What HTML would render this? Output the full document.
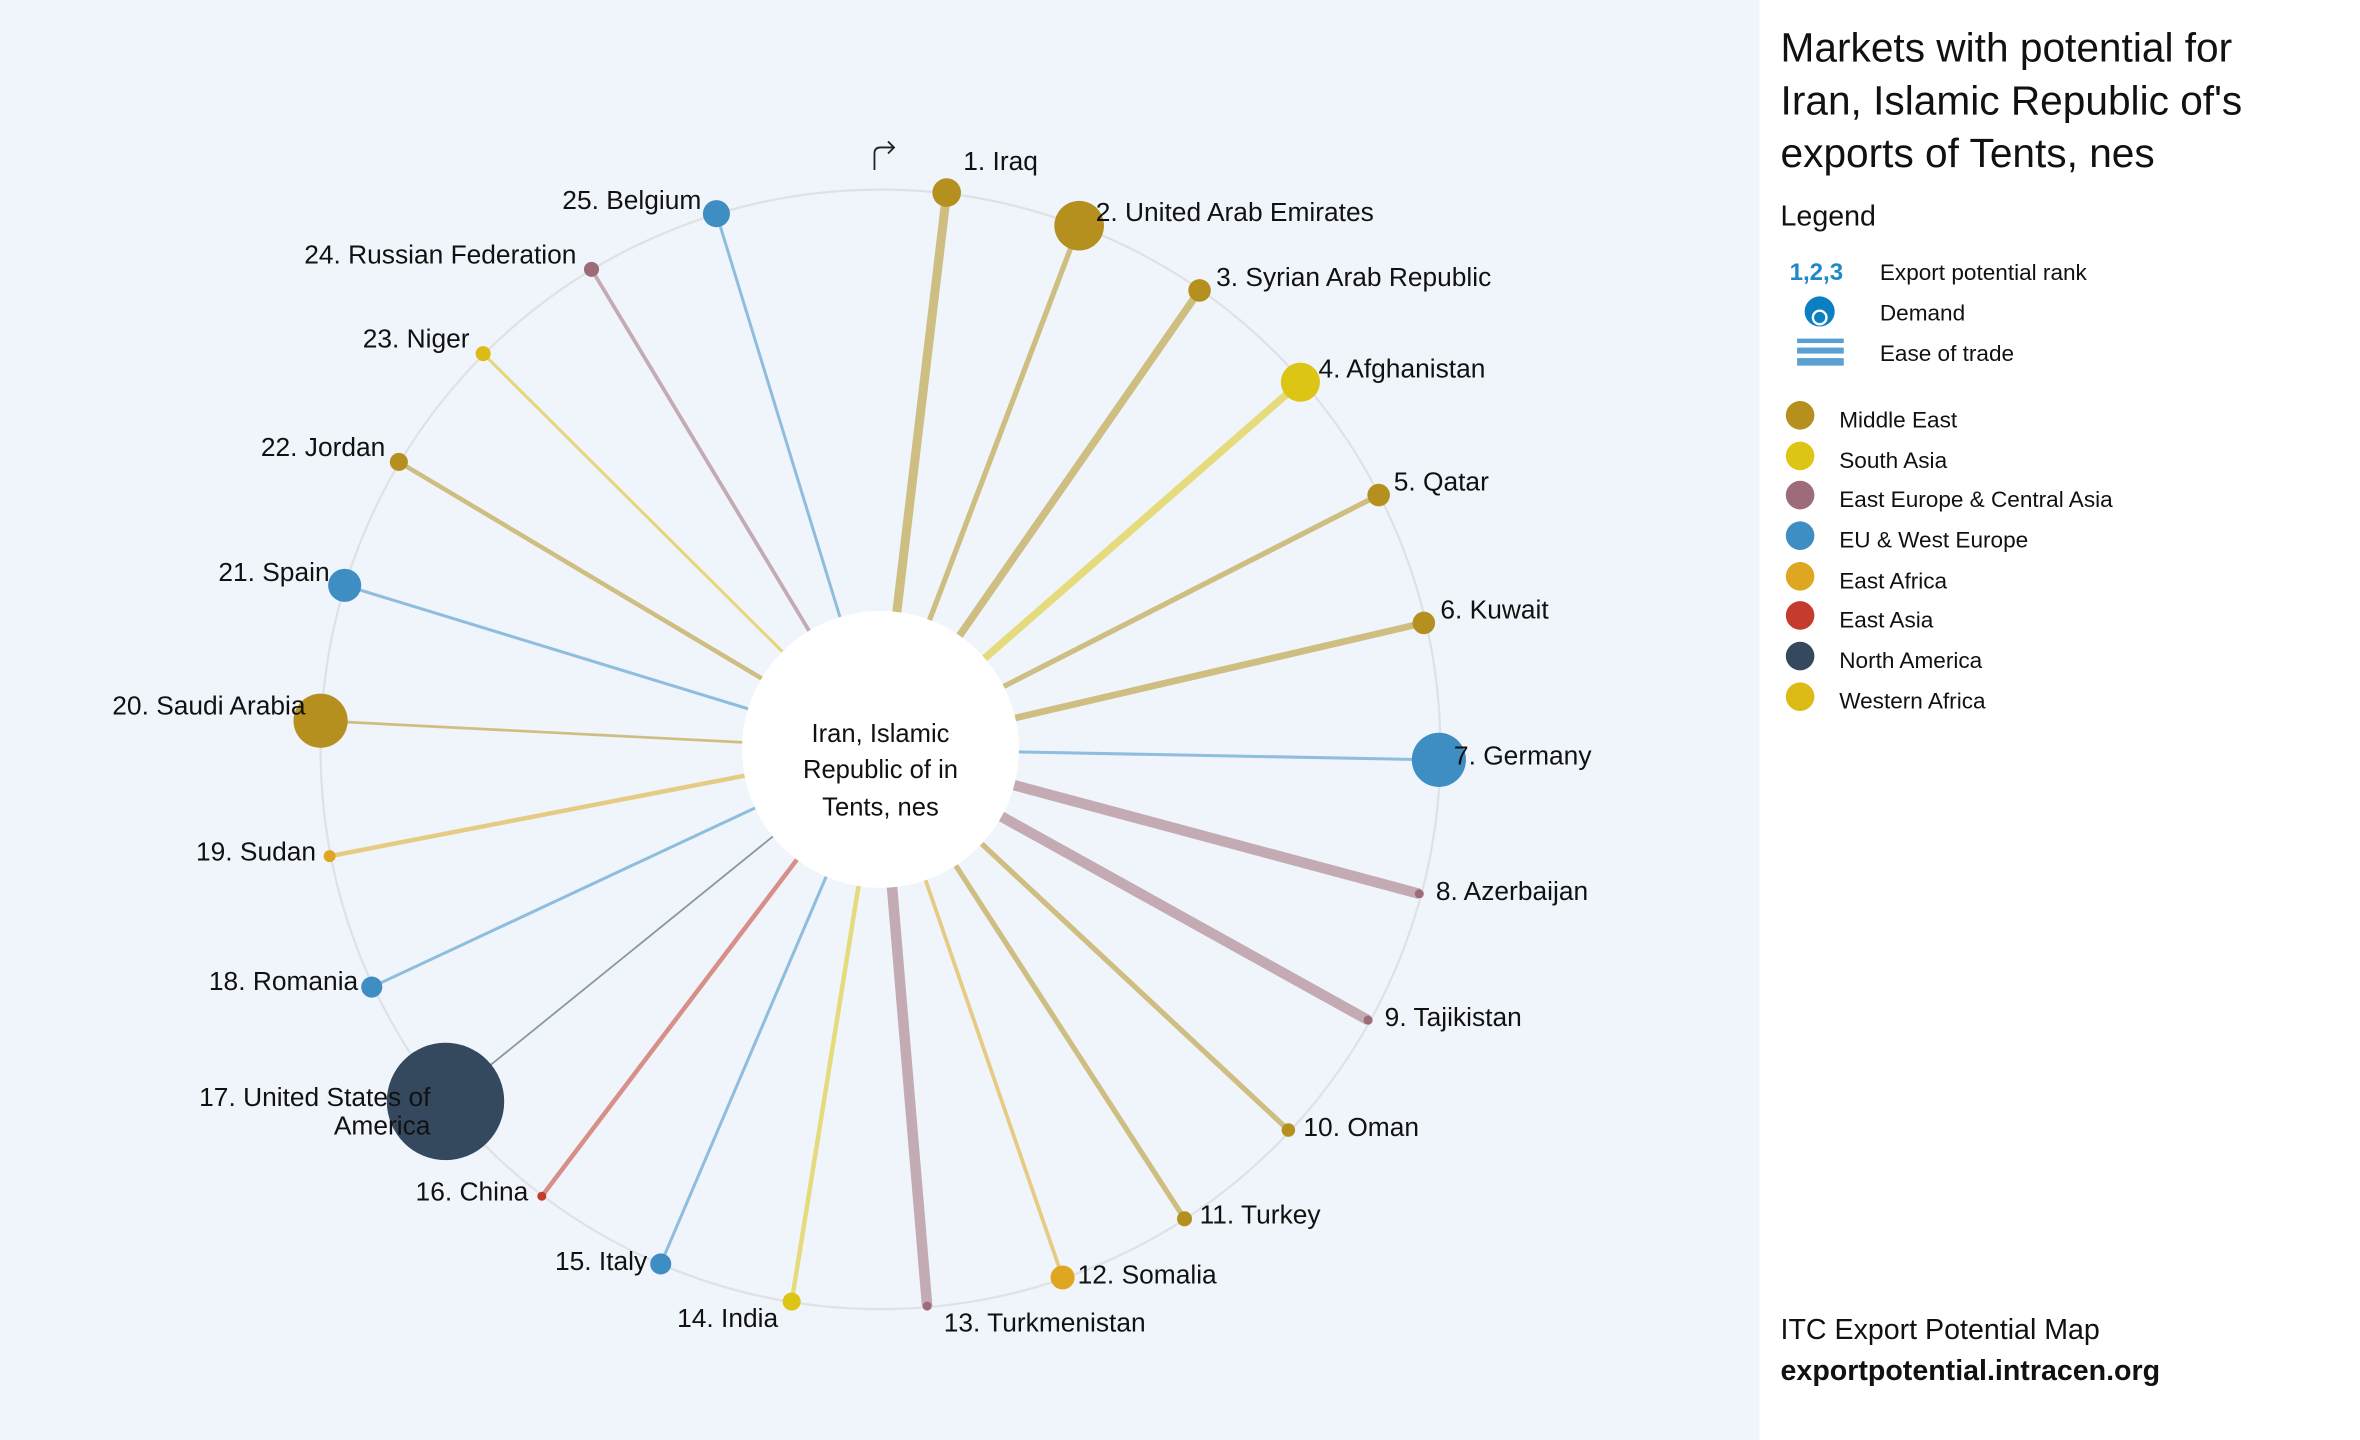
<!DOCTYPE html>
<html><head><meta charset="utf-8"><style>
html,body{margin:0;padding:0;background:#fff;}
svg{display:block;}
text{font-family:"Liberation Sans",sans-serif;fill:#111;}
</style></head><body>
<svg width="2360" height="1440" viewBox="0 0 1568 957" preserveAspectRatio="none" xmlns="http://www.w3.org/2000/svg">
<rect x="0" y="0" width="1169" height="957" fill="#f0f5fb"/>
<rect x="1169" y="0" width="399" height="957" fill="#fff"/>
<circle cx="585" cy="498" r="372" fill="none" stroke="#dfe2e5" stroke-width="1.5"/>
<g stroke-linecap="butt" stroke-opacity="0.55">
<line x1="585" y1="498" x2="629" y2="128" stroke="#b5901f" stroke-width="6"/>
<line x1="585" y1="498" x2="717" y2="150" stroke="#b5901f" stroke-width="3.5"/>
<line x1="585" y1="498" x2="797" y2="193" stroke="#b5901f" stroke-width="5"/>
<line x1="585" y1="498" x2="864" y2="254" stroke="#dcc514" stroke-width="5"/>
<line x1="585" y1="498" x2="916" y2="329" stroke="#b5901f" stroke-width="3.5"/>
<line x1="585" y1="498" x2="946" y2="414" stroke="#b5901f" stroke-width="4.5"/>
<line x1="585" y1="498" x2="956" y2="505" stroke="#3e8ec4" stroke-width="2"/>
<line x1="585" y1="498" x2="943" y2="594" stroke="#9e6b78" stroke-width="7"/>
<line x1="585" y1="498" x2="909" y2="678" stroke="#9e6b78" stroke-width="7"/>
<line x1="585" y1="498" x2="856" y2="751" stroke="#b5901f" stroke-width="3.5"/>
<line x1="585" y1="498" x2="787" y2="810" stroke="#b5901f" stroke-width="3.5"/>
<line x1="585" y1="498" x2="706" y2="849" stroke="#dfa721" stroke-width="2.5"/>
<line x1="585" y1="498" x2="616" y2="868" stroke="#9e6b78" stroke-width="7"/>
<line x1="585" y1="498" x2="526" y2="865" stroke="#dcc514" stroke-width="3"/>
<line x1="585" y1="498" x2="439" y2="840" stroke="#3e8ec4" stroke-width="2"/>
<line x1="585" y1="498" x2="360" y2="795" stroke="#c53b2e" stroke-width="3"/>
<line x1="585" y1="498" x2="296" y2="732" stroke="#34495e" stroke-width="1.2"/>
<line x1="585" y1="498" x2="247" y2="656" stroke="#3e8ec4" stroke-width="2"/>
<line x1="585" y1="498" x2="219" y2="569" stroke="#dfa721" stroke-width="3"/>
<line x1="585" y1="498" x2="213" y2="479" stroke="#b5901f" stroke-width="1.8"/>
<line x1="585" y1="498" x2="229" y2="389" stroke="#3e8ec4" stroke-width="2"/>
<line x1="585" y1="498" x2="265" y2="307" stroke="#b5901f" stroke-width="3"/>
<line x1="585" y1="498" x2="321" y2="235" stroke="#dcbb16" stroke-width="2"/>
<line x1="585" y1="498" x2="393" y2="179" stroke="#9e6b78" stroke-width="2.5"/>
<line x1="585" y1="498" x2="476" y2="142" stroke="#3e8ec4" stroke-width="2"/>
</g>
<circle cx="585" cy="498" r="92" fill="#fff"/>
<text x="585" y="493" font-size="17" text-anchor="middle">Iran, Islamic</text>
<text x="585" y="517" font-size="17" text-anchor="middle">Republic of in</text>
<text x="585" y="542" font-size="17" text-anchor="middle">Tents, nes</text>
<g>
<circle cx="629" cy="128" r="9.5" fill="#b5901f"/>
<circle cx="717" cy="150" r="16.5" fill="#b5901f"/>
<circle cx="797" cy="193" r="7.5" fill="#b5901f"/>
<circle cx="864" cy="254" r="13" fill="#dcc514"/>
<circle cx="916" cy="329" r="7.5" fill="#b5901f"/>
<circle cx="946" cy="414" r="7.5" fill="#b5901f"/>
<circle cx="956" cy="505" r="18" fill="#3e8ec4"/>
<circle cx="943" cy="594" r="3" fill="#9e6b78"/>
<circle cx="909" cy="678" r="3" fill="#9e6b78"/>
<circle cx="856" cy="751" r="4.5" fill="#b5901f"/>
<circle cx="787" cy="810" r="5" fill="#b5901f"/>
<circle cx="706" cy="849" r="8" fill="#dfa721"/>
<circle cx="616" cy="868" r="3" fill="#9e6b78"/>
<circle cx="526" cy="865" r="6" fill="#dcc514"/>
<circle cx="439" cy="840" r="7" fill="#3e8ec4"/>
<circle cx="360" cy="795" r="3" fill="#c53b2e"/>
<circle cx="296" cy="732" r="39" fill="#34495e"/>
<circle cx="247" cy="656" r="7" fill="#3e8ec4"/>
<circle cx="219" cy="569" r="4" fill="#dfa721"/>
<circle cx="213" cy="479" r="18" fill="#b5901f"/>
<circle cx="229" cy="389" r="11" fill="#3e8ec4"/>
<circle cx="265" cy="307" r="6" fill="#b5901f"/>
<circle cx="321" cy="235" r="5" fill="#dcbb16"/>
<circle cx="393" cy="179" r="5" fill="#9e6b78"/>
<circle cx="476" cy="142" r="9" fill="#3e8ec4"/>
</g>
<g font-size="17.5">
<text x="640" y="113">1. Iraq</text>
<text x="728" y="147">2. United Arab Emirates</text>
<text x="808" y="190">3. Syrian Arab Republic</text>
<text x="876" y="251">4. Afghanistan</text>
<text x="926" y="326">5. Qatar</text>
<text x="957" y="411">6. Kuwait</text>
<text x="966" y="508">7. Germany</text>
<text x="954" y="598">8. Azerbaijan</text>
<text x="920" y="682">9. Tajikistan</text>
<text x="866" y="755">10. Oman</text>
<text x="797" y="813">11. Turkey</text>
<text x="716" y="853">12. Somalia</text>
<text x="627" y="885">13. Turkmenistan</text>
<text x="517" y="882" text-anchor="end">14. India</text>
<text x="430" y="844" text-anchor="end">15. Italy</text>
<text x="351" y="798" text-anchor="end">16. China</text>
<text x="286" y="735" text-anchor="end">17. United States of</text>
<text x="286" y="754" text-anchor="end">America</text>
<text x="238" y="658" text-anchor="end">18. Romania</text>
<text x="210" y="572" text-anchor="end">19. Sudan</text>
<text x="203" y="475" text-anchor="end">20. Saudi Arabia</text>
<text x="219" y="386" text-anchor="end">21. Spain</text>
<text x="256" y="303" text-anchor="end">22. Jordan</text>
<text x="312" y="231" text-anchor="end">23. Niger</text>
<text x="383" y="175" text-anchor="end">24. Russian Federation</text>
<text x="466" y="139" text-anchor="end">25. Belgium</text>
</g>
<path d="M581 113 V102 Q581 98 585 98 H594 M590 94 L594 98 L590 102" fill="none" stroke="#222" stroke-width="1.2"/>
<g>
<text x="1183" y="41" font-size="27">Markets with potential for</text>
<text x="1183" y="76" font-size="27">Iran, Islamic Republic of's</text>
<text x="1183" y="111" font-size="27">exports of Tents, nes</text>
<text x="1183" y="150" font-size="19">Legend</text>
<text x="1189" y="186" font-size="16" font-weight="bold" style="fill:#1e88c8">1,2,3</text>
<text x="1249" y="186" font-size="15">Export potential rank</text>
<circle cx="1209" cy="207" r="10" fill="#0a7fc2"/>
<circle cx="1209" cy="211" r="4.5" fill="none" stroke="#fff" stroke-width="1.6"/>
<text x="1249" y="213" font-size="15">Demand</text>
<rect x="1194" y="225" width="31" height="3" fill="#5aa0d0"/>
<rect x="1194" y="231" width="31" height="4" fill="#5aa0d0"/>
<rect x="1194" y="238" width="31" height="5" fill="#5aa0d0"/>
<text x="1249" y="240" font-size="15">Ease of trade</text>
<circle cx="1196" cy="276" r="9.5" fill="#b5901f"/><text x="1222" y="284" font-size="15">Middle East</text>
<circle cx="1196" cy="303" r="9.5" fill="#dcc514"/><text x="1222" y="311" font-size="15">South Asia</text>
<circle cx="1196" cy="329" r="9.5" fill="#9e6b78"/><text x="1222" y="337" font-size="15">East Europe &amp; Central Asia</text>
<circle cx="1196" cy="356" r="9.5" fill="#3e8ec4"/><text x="1222" y="364" font-size="15">EU &amp; West Europe</text>
<circle cx="1196" cy="383" r="9.5" fill="#dfa721"/><text x="1222" y="391" font-size="15">East Africa</text>
<circle cx="1196" cy="409" r="9.5" fill="#c53b2e"/><text x="1222" y="417" font-size="15">East Asia</text>
<circle cx="1196" cy="436" r="9.5" fill="#34495e"/><text x="1222" y="444" font-size="15">North America</text>
<circle cx="1196" cy="463" r="9.5" fill="#dcbb16"/><text x="1222" y="471" font-size="15">Western Africa</text>
<text x="1183" y="890" font-size="19">ITC Export Potential Map</text>
<text x="1183" y="917" font-size="19" font-weight="bold">exportpotential.intracen.org</text>
</g>
</svg>
</body></html>
